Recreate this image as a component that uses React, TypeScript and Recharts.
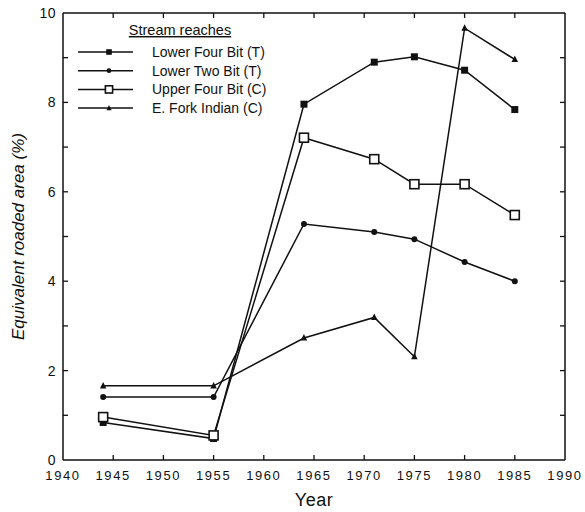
import React from "react";
import { LineChart, Line, XAxis, YAxis, Legend, Label } from "recharts";

// years on the x axis
const years = [1944, 1955, 1964, 1971, 1975, 1980, 1985];

// equivalent roaded area (%) per stream reach
const lowerFourBit = [0.84, 0.48, 7.96, 8.9, 9.02, 8.72, 7.84];
const lowerTwoBit = [1.41, 1.41, 5.28, 5.1, 4.94, 4.43, 4.0];
const upperFourBit = [0.96, 0.55, 7.21, 6.73, 6.17, 6.17, 5.48];
const eForkIndian = [1.66, 1.66, 2.73, 3.19, 2.31, 9.66, 8.96];

const seriesNames = ["Lower Four Bit (T)", "Lower Two Bit (T)", "Upper Four Bit (C)", "E. Fork Indian (C)"];
const seriesKeys = ["lfb", "ltb", "ufb", "efi"];
// each frame side is its own axis; spread the series over them so every axis gets a scale
const seriesXAxis = ["x", "xb", "xt", "x"];
const seriesYAxis = ["y", "yl", "yr", "y"];

const xTicks = [1940, 1945, 1950, 1955, 1960, 1965, 1970, 1975, 1980, 1985, 1990];
const xInnerTicks = [1945, 1950, 1955, 1960, 1965, 1970, 1975, 1980, 1985];
const yTicks = [0, 2, 4, 6, 8, 10];
const yInnerTicks = [1, 2, 3, 4, 5, 6, 7, 8, 9];

const data = years.map((year, i) => ({
  year,
  lfb: lowerFourBit[i],
  ltb: lowerTwoBit[i],
  ufb: upperFourBit[i],
  efi: eForkIndian[i],
}));

const FONT = "'Liberation Sans', Arial, sans-serif";
const INK = "#111";

// tick marks only, no label
const noLabel = () => <g />;

function Marker({ kind, cx, cy, s = 1 }: { kind: number; cx: number; cy: number; s?: number }) {
  if (kind === 0) {
    const w = 7 * s;
    return <rect x={cx - w / 2} y={cy - w / 2} width={w} height={w} fill={INK} />;
  }
  if (kind === 1) {
    return <circle cx={cx} cy={cy} r={3 * s} fill={INK} />;
  }
  if (kind === 2) {
    const w = 9 * s;
    return <rect x={cx - w / 2} y={cy - w / 2} width={w} height={w} fill="#fff" stroke={INK} strokeWidth={1.6} />;
  }
  const h = 6.5 * s;
  return (
    <polygon
      points={`${cx},${cy - h * 0.6} ${cx - h / 2},${cy + h * 0.4} ${cx + h / 2},${cy + h * 0.4}`}
      fill={INK}
    />
  );
}

const renderLegend = () => (
  <svg width={320} height={120} style={{ display: "block" }}>
    <text
      x={180}
      y={35}
      textAnchor="middle"
      fontFamily={FONT}
      fontSize={14.5}
      fill={INK}
      textDecoration="underline"
    >
      Stream reaches
    </text>
    {seriesNames.map((name, i) => {
      const y = 52 + i * 18.7;
      return (
        <g key={name}>
          <line x1={78} x2={133} y1={y} y2={y} stroke={INK} strokeWidth={1.5} />
          <Marker kind={i} cx={109} cy={y} s={0.8} />
          <text x={152} y={y + 5} fontFamily={FONT} fontSize={14} fill={INK}>
            {name}
          </text>
        </g>
      );
    })}
  </svg>
);

export default function App() {
  return (
    <div style={{ position: "absolute", left: 0, top: 0, background: "#fff" }}>
      <LineChart width={585} height={512} data={data} margin={{ top: 13, right: 20, bottom: 0, left: 0 }}>
        <XAxis
          xAxisId="x"
          dataKey="year"
          type="number"
          domain={[1940, 1990]}
          allowDataOverflow
          ticks={xTicks}
          height={52}
          tickLine={false}
          axisLine={{ stroke: INK, strokeWidth: 1.5 }}
          tickMargin={5}
          tick={{ fill: INK, fontSize: 13, fontFamily: FONT, letterSpacing: 1.6 }}
        >
          <Label
            value="Year"
            position="insideBottom"
            offset={6}
            style={{ fill: INK, fontSize: 18, fontFamily: FONT, letterSpacing: 0.5 }}
          />
        </XAxis>
        <XAxis
          xAxisId="xb"
          dataKey="year"
          type="number"
          domain={[1940, 1990]}
          allowDataOverflow
          ticks={xInnerTicks}
          mirror
          height={10}
          tick={noLabel}
          axisLine={false}
          tickSize={5}
          tickLine={{ stroke: INK, strokeWidth: 1.3 }}
        />
        <XAxis
          xAxisId="xt"
          dataKey="year"
          type="number"
          orientation="top"
          domain={[1940, 1990]}
          allowDataOverflow
          ticks={xInnerTicks}
          mirror
          height={10}
          tick={noLabel}
          tickSize={5}
          axisLine={{ stroke: INK, strokeWidth: 1.5 }}
          tickLine={{ stroke: INK, strokeWidth: 1.3 }}
        />
        <YAxis
          yAxisId="y"
          type="number"
          domain={[0, 10]}
          allowDataOverflow
          ticks={yTicks}
          width={63}
          tickLine={false}
          tickMargin={1}
          axisLine={{ stroke: INK, strokeWidth: 1.5 }}
          tick={{ fill: INK, fontSize: 14, fontFamily: FONT, letterSpacing: 0.5 }}
        >
          <Label
            value="Equivalent roaded area (%)"
            angle={-90}
            position="insideLeft"
            offset={18}
            style={{ textAnchor: "middle", fill: INK, fontSize: 17, fontStyle: "italic", fontFamily: FONT }}
          />
        </YAxis>
        <YAxis
          yAxisId="yl"
          type="number"
          domain={[0, 10]}
          allowDataOverflow
          ticks={yInnerTicks}
          mirror
          width={10}
          tick={noLabel}
          axisLine={false}
          tickSize={5}
          tickLine={{ stroke: INK, strokeWidth: 1.3 }}
        />
        <YAxis
          yAxisId="yr"
          type="number"
          orientation="right"
          domain={[0, 10]}
          allowDataOverflow
          ticks={yInnerTicks}
          mirror
          width={10}
          tick={noLabel}
          tickSize={5}
          axisLine={{ stroke: INK, strokeWidth: 1.5 }}
          tickLine={{ stroke: INK, strokeWidth: 1.3 }}
        />
        <Legend
          layout="vertical"
          align="center"
          verticalAlign="middle"
          content={renderLegend}
          wrapperStyle={{ left: 0, top: 0, width: 320, height: 120 }}
        />
        {seriesKeys.map((key, i) => (
          <Line
            key={key}
            xAxisId={seriesXAxis[i]}
            yAxisId={seriesYAxis[i]}
            type="linear"
            dataKey={key}
            name={seriesNames[i]}
            stroke={INK}
            strokeWidth={1.5}
            isAnimationActive={false}
            dot={(p: any) => <Marker key={`${key}-${p.index}`} kind={i} cx={p.cx} cy={p.cy} />}
            activeDot={false}
          />
        ))}
      </LineChart>
    </div>
  );
}
